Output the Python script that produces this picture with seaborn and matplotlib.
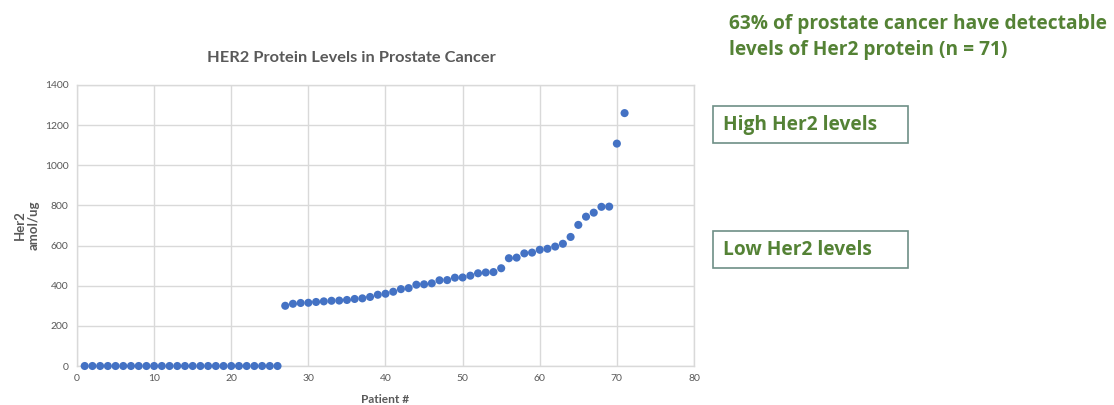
import matplotlib
matplotlib.use("Agg")
import matplotlib.pyplot as plt
from matplotlib.patches import Rectangle
import seaborn as sns
import pandas as pd

# Patient index and measured HER2 level (amol/ug)
patients = list(range(1, 72))
her2_levels = [0] * 26 + [
    300, 310, 314, 315, 319, 322, 325, 326, 329, 334,
    337, 344, 355, 360, 370, 383, 388, 405, 407, 412,
    427, 428, 440, 441, 450, 462, 466, 468, 487, 537,
    540, 561, 565, 579, 584, 595, 609, 643, 703, 744,
    764, 793, 794, 1108, 1260,
]
x_ticks = [0, 10, 20, 30, 40, 50, 60, 70, 80]
y_ticks = [0, 200, 400, 600, 800, 1000, 1200, 1400]

df = pd.DataFrame({"Patient #": patients, "Her2": her2_levels})

sns.set_theme(style="white")
plt.rcParams["font.family"] = ["Lato", "DejaVu Sans"]

fig = plt.figure(figsize=(11.14, 4.05), dpi=100)
ax = fig.add_axes([77 / 1114, 39 / 405, 617 / 1114, 281 / 405])

sns.scatterplot(data=df, x="Patient #", y="Her2", ax=ax, color="#4472C4",
                s=34, edgecolor="none", zorder=3, clip_on=False)

grid_col = "#D9D9D9"
ax.set_xlim(0, 80)
ax.set_ylim(0, 1400)
ax.set_xticks(x_ticks)
ax.set_yticks(y_ticks)
ax.grid(True, color=grid_col, linewidth=1)
for s in ax.spines.values():
    s.set_color(grid_col)
    s.set_linewidth(1)
ax.tick_params(axis="both", length=0, labelsize=7.5, labelcolor="#595959", pad=6)

ax.set_xlabel("Patient #", fontsize=8.6, fontweight="bold", color="#595959", labelpad=8)
ax.set_ylabel("Her2\namol/ug", fontsize=9.5, fontweight="bold", color="#595959",
              labelpad=4, linespacing=1.1)

fig.text(351 / 1114, 1 - 58 / 405, "HER2 Protein Levels in Prostate Cancer",
         ha="center", va="center", fontsize=11.8, fontweight="bold", color="#595959")

green = "#548235"
heading_font = ["Open Sans", "DejaVu Sans"]
fig.text(729 / 1114, 1 - 37 / 405,
         "63% of prostate cancer have detectable\nlevels of Her2 protein (n = 71)",
         ha="left", va="center", fontsize=13.8, fontweight="bold", color=green,
         family=heading_font, linespacing=1.4)

box_edge = "#6E8F86"
for label, top in [("High Her2 levels", 106), ("Low Her2 levels", 231)]:
    fig.patches.append(Rectangle((713 / 1114, 1 - (top + 37) / 405), 195 / 1114, 37 / 405,
                                 transform=fig.transFigure, facecolor="white",
                                 edgecolor=box_edge, linewidth=1.2))
    fig.text(723 / 1114, 1 - (top + 19) / 405, label, ha="left", va="center",
             fontsize=13.8, fontweight="bold", color=green, family=heading_font)

fig.savefig("out.png", dpi=100, facecolor="white")
